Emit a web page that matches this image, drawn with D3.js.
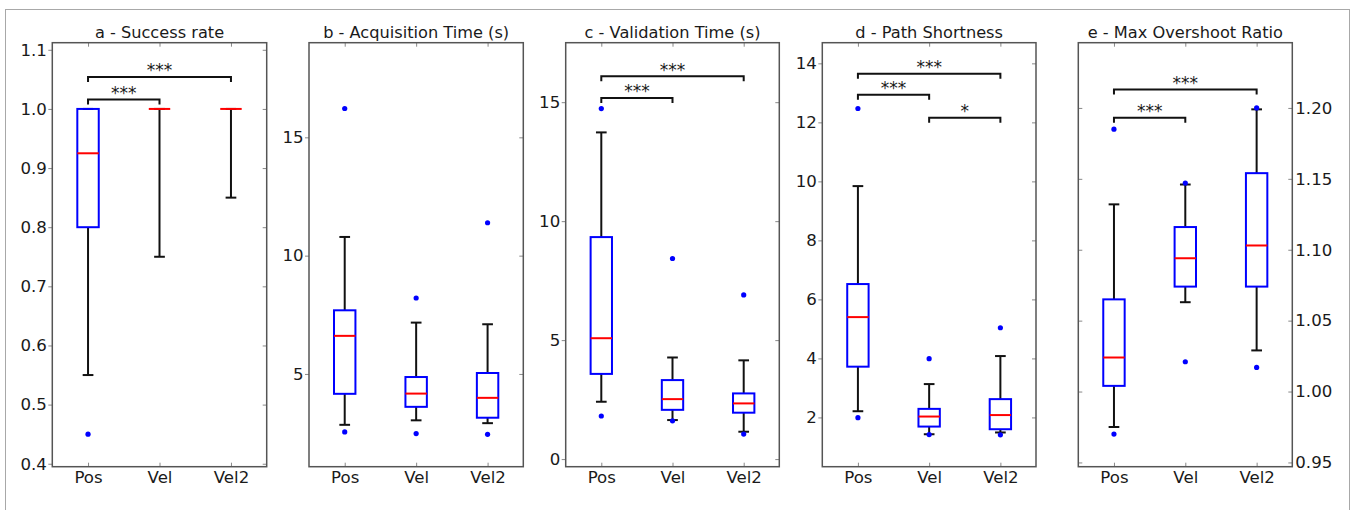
<!DOCTYPE html>
<html><head><meta charset="utf-8">
<script src="https://cdn.jsdelivr.net/npm/d3@7"></script>
<style>
body{margin:0;background:#fff}
text{font-family:"DejaVu Sans",sans-serif;fill:#1a1a1a}
</style>
</head><body>
<svg id="chart" width="1353" height="510"></svg>
<script>
// ---------- data ----------
const categories = ["Pos", "Vel", "Vel2"];
const panelTitles = ["a - Success rate", "b - Acquisition Time (s)", "c - Validation Time (s)", "d - Path Shortness", "e - Max Overshoot Ratio"];

// box stats per category: [lower whisker, Q1, median, Q3, upper whisker]
const successStats = [[0.55, 0.80, 0.925, 1.00, 1.00], [0.75, 1.00, 1.00, 1.00, 1.00], [0.85, 1.00, 1.00, 1.00, 1.00]];
const successFliers = [[0.45], [], []];
const successTicks = [0.4, 0.5, 0.6, 0.7, 0.8, 0.9, 1.0, 1.1];
const successSig = [[0, 1, 1.016, "***"], [0, 2, 1.054, "***"]];

const acquisitionStats = [[2.85, 4.16, 6.61, 7.69, 10.79], [3.04, 3.61, 4.17, 4.87, 7.17], [2.92, 3.15, 3.99, 5.04, 7.10]];
const acquisitionFliers = [[16.22, 2.55], [8.21, 2.48], [11.39, 2.45]];
const acquisitionTicks = [5, 10, 15];
const acquisitionSig = [];

const validationStats = [[2.41, 3.58, 5.08, 9.33, 13.73], [1.64, 2.07, 2.52, 3.32, 4.27], [1.15, 1.95, 2.34, 2.76, 4.15]];
const validationFliers = [[14.73, 1.81], [8.43, 1.61], [6.90, 1.05]];
const validationTicks = [0, 5, 10, 15];
const validationSig = [[0, 1, 15.18, "***"], [0, 2, 16.09, "***"]];

const pathStats = [[2.21, 3.72, 5.40, 6.52, 9.84], [1.43, 1.69, 2.03, 2.29, 3.13], [1.49, 1.60, 2.08, 2.62, 4.08]];
const pathFliers = [[12.47, 1.99], [3.99, 1.42], [5.04, 1.41]];
const pathTicks = [2, 4, 6, 8, 10, 12, 14];
const pathSig = [[0, 1, 12.94, "***"], [0, 2, 13.65, "***"], [1, 2, 12.16, "*"]];

const overshootStats = [[0.975, 1.004, 1.024, 1.065, 1.132], [1.063, 1.074, 1.094, 1.116, 1.146], [1.029, 1.074, 1.103, 1.154, 1.199]];
const overshootFliers = [[1.185, 0.970], [1.147, 1.021], [1.200, 1.017]];
const overshootTicks = [0.95, 1.00, 1.05, 1.10, 1.15, 1.20];
const overshootSig = [[0, 1, 1.193, "***"], [0, 2, 1.213, "***"]];

// ---------- layout ----------
const axTop = 42.7, axBottom = 466.7;
const panels = [
  {title: panelTitles[0], left: 52.3, right: 266.7, domain: [0.395, 1.112], ticks: successTicks, fmt: d3.format(".1f"), stats: successStats, fliers: successFliers, sig: successSig, side: "left"},
  {title: panelTitles[1], left: 309, right: 523.3, domain: [1.08, 19.0], ticks: acquisitionTicks, fmt: d3.format("d"), stats: acquisitionStats, fliers: acquisitionFliers, sig: acquisitionSig, side: "left"},
  {title: panelTitles[2], left: 565.7, right: 779.3, domain: [-0.32, 17.5], ticks: validationTicks, fmt: d3.format("d"), stats: validationStats, fliers: validationFliers, sig: validationSig, side: "left"},
  {title: panelTitles[3], left: 822.3, right: 1036, domain: [0.33, 14.7], ticks: pathTicks, fmt: d3.format("d"), stats: pathStats, fliers: pathFliers, sig: pathSig, side: "left"},
  {title: panelTitles[4], left: 1078.3, right: 1292.3, domain: [0.947, 1.246], ticks: overshootTicks, fmt: d3.format(".2f"), stats: overshootStats, fliers: overshootFliers, sig: overshootSig, side: "right"}
];

const svg = d3.select("#chart");
svg.append("rect").attr("x", 5.5).attr("y", 9.5).attr("width", 1344).attr("height", 530)
  .attr("fill", "none").attr("stroke", "#a8a8a8").attr("stroke-width", 1);

const boxHalf = 0.15, capHalf = 0.075;
const spineColor = "#555", tickColor = "#888";

panels.forEach(p => {
  const g = svg.append("g");
  const x = d3.scaleLinear().domain([0.5, 3.5]).range([p.left, p.right]);
  const y = d3.scaleLinear().domain(p.domain).range([axBottom, axTop]);

  // title
  g.append("text").attr("x", (p.left + p.right) / 2).attr("y", 38.3)
    .attr("text-anchor", "middle").attr("font-size", 16.2).text(p.title);

  // axes
  const xb = d3.axisBottom(x).tickValues([1, 2, 3]).tickFormat((d, i) => categories[i]).tickSize(-4).tickPadding(4.5);
  const xt = d3.axisTop(x).tickValues([1, 2, 3]).tickFormat("").tickSize(-4);
  let ylab, yother;
  if (p.side === "left") {
    ylab = g.append("g").attr("transform", `translate(${p.left},0)`).call(d3.axisLeft(y).tickValues(p.ticks).tickFormat(p.fmt).tickSize(4).tickPadding(1.5));
    yother = g.append("g").attr("transform", `translate(${p.right},0)`).call(d3.axisRight(y).tickValues(p.ticks).tickFormat("").tickSize(-4));
  } else {
    ylab = g.append("g").attr("transform", `translate(${p.right},0)`).call(d3.axisRight(y).tickValues(p.ticks).tickFormat(p.fmt).tickSize(-4).tickPadding(3));
    yother = g.append("g").attr("transform", `translate(${p.left},0)`).call(d3.axisLeft(y).tickValues(p.ticks).tickFormat("").tickSize(-4));
  }
  const xbg = g.append("g").attr("transform", `translate(0,${axBottom})`).call(xb);
  const xtg = g.append("g").attr("transform", `translate(0,${axTop})`).call(xt);
  [ylab, yother, xbg, xtg].forEach(a => {
    a.select(".domain").remove();
    a.selectAll(".tick line").attr("stroke", tickColor).attr("stroke-width", 1);
    a.selectAll(".tick text").attr("font-size", 16.6).attr("font-family", "DejaVu Sans, sans-serif").attr("fill", "#1a1a1a");
  });

  // frame
  g.append("rect").attr("x", p.left).attr("y", axTop).attr("width", p.right - p.left).attr("height", axBottom - axTop)
    .attr("fill", "none").attr("stroke", spineColor).attr("stroke-width", 1.5);

  // boxes
  p.stats.forEach((s, i) => {
    const c = i + 1;
    const [wlo, q1, med, q3, whi] = s;
    g.append("line").attr("x1", x(c)).attr("x2", x(c)).attr("y1", y(wlo)).attr("y2", y(q1)).attr("stroke", "#111").attr("stroke-width", 2);
    g.append("line").attr("x1", x(c)).attr("x2", x(c)).attr("y1", y(q3)).attr("y2", y(whi)).attr("stroke", "#111").attr("stroke-width", 2);
    [wlo, whi].forEach(v => {
      g.append("line").attr("x1", x(c - capHalf)).attr("x2", x(c + capHalf)).attr("y1", y(v)).attr("y2", y(v)).attr("stroke", "#111").attr("stroke-width", 2);
    });
    g.append("rect").attr("x", x(c - boxHalf)).attr("y", y(q3)).attr("width", x(c + boxHalf) - x(c - boxHalf))
      .attr("height", Math.max(0, y(q1) - y(q3))).attr("fill", "none").attr("stroke", "#0000ff").attr("stroke-width", 2);
    g.append("line").attr("x1", x(c - boxHalf)).attr("x2", x(c + boxHalf)).attr("y1", y(med)).attr("y2", y(med)).attr("stroke", "#ff0000").attr("stroke-width", 2);
    p.fliers[i].forEach(v => {
      g.append("circle").attr("cx", x(c)).attr("cy", y(v)).attr("r", 2.6).attr("fill", "#0000ff");
    });
  });

  // significance brackets
  p.sig.forEach(([a, b, lvl, label]) => {
    const x1 = x(a + 1), x2 = x(b + 1), yy = y(lvl);
    g.append("path").attr("d", `M${x1},${yy + 5}V${yy}H${x2}V${yy + 5}`)
      .attr("fill", "none").attr("stroke", "#111").attr("stroke-width", 2);
    g.append("text").attr("x", (x1 + x2) / 2).attr("y", yy - 0.5).attr("text-anchor", "middle")
      .attr("font-size", 17).attr("fill", "#333").text(label);
  });
});
</script>
</body></html>
